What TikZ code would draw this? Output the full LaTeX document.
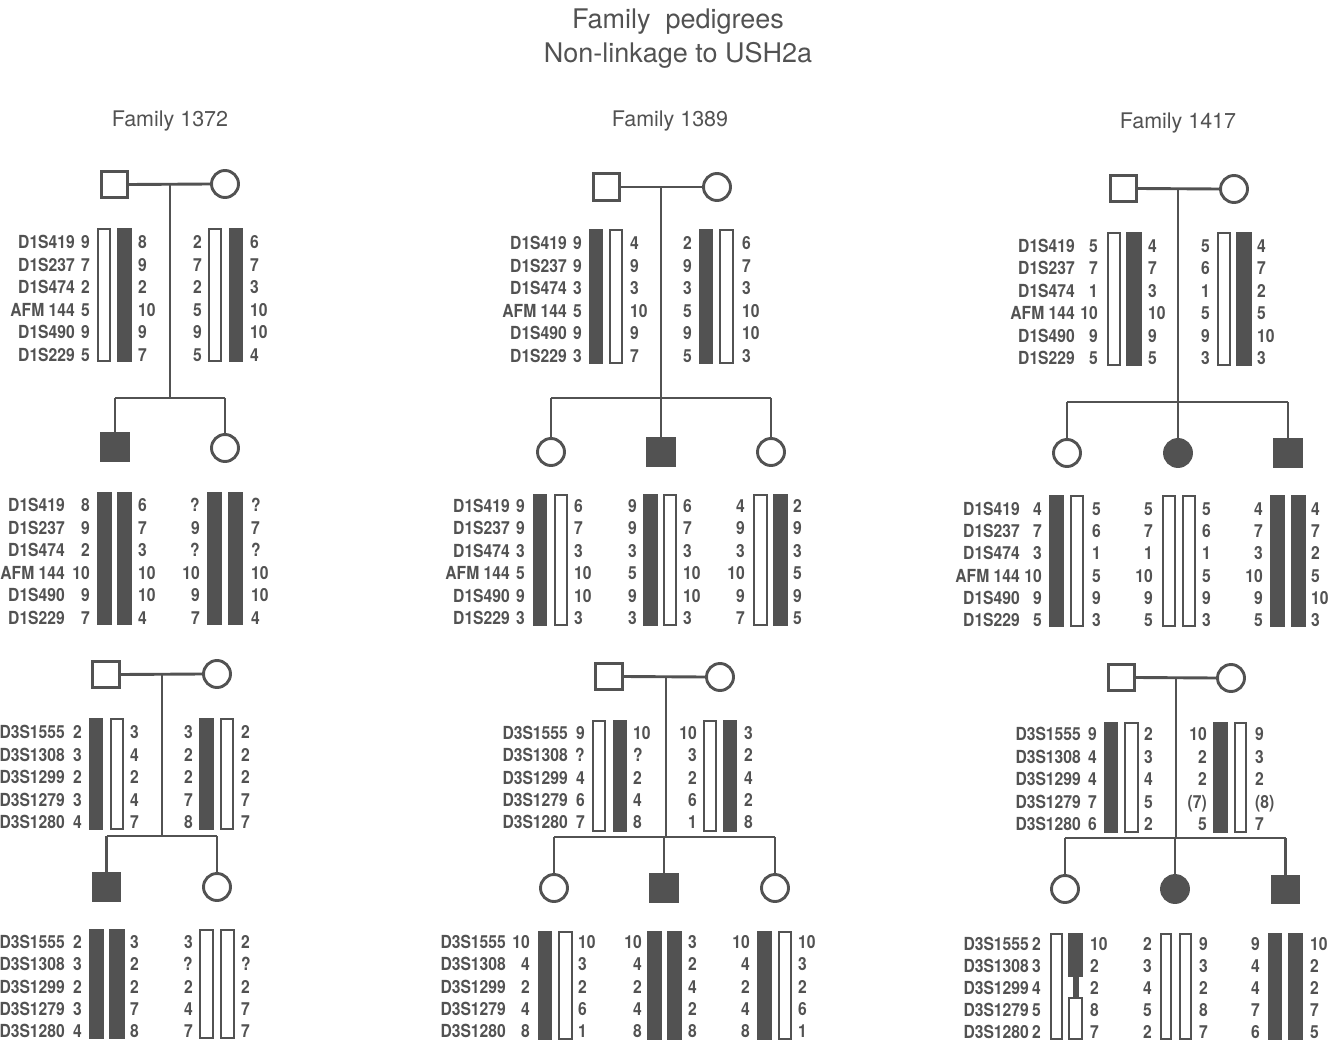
\documentclass[tikz,border=0pt]{standalone}
\usepackage{fontspec}
\setmainfont{TeX Gyre Heros}
\newfontfamily\condf{TeX Gyre Heros}[FakeStretch=0.87]
\definecolor{ink}{RGB}{82,82,82}
\tikzset{
  lw/.style={line width=2.9pt, draw=ink},
  male/.style={rectangle, draw=ink, line width=2.9pt, minimum size=26.5pt, inner sep=0pt},
  female/.style={circle, draw=ink, line width=2.9pt, minimum size=27pt, inner sep=0pt},
  aff/.style={fill=ink},
  wbar/.style={draw=ink, line width=1.8pt, fill=white},
  bbar/.style={draw=ink, line width=1.8pt, fill=ink},
  txt/.style={font=\condf\bfseries\fontsize{18}{20}\selectfont, text=ink, inner sep=0pt},
  ttl/.style={font=\fontsize{27}{30}\selectfont, text=ink, inner sep=0pt},
  fam/.style={font=\fontsize{21.5}{24}\selectfont, text=ink, inner sep=0pt}
}
\newcommand{\colL}[5]{\foreach \v [count=\i] in {#5}{\node[txt, anchor=base east] (#1-\i) at (#2, {#3+(\i-1)*#4+6.5}) {\v};}}
\newcommand{\colR}[5]{\foreach \v [count=\i] in {#5}{\node[txt, anchor=base west] (#1-\i) at (#2, {#3+(\i-1)*#4+6.5}) {\v};}}
\newcommand{\hapW}[4]{\draw[wbar] (#1+0.9,#2+0.9) rectangle (#3-0.9,#4-0.9);}
\newcommand{\hapB}[4]{\draw[bbar] (#1+0.9,#2+0.9) rectangle (#3-0.9,#4-0.9);}
\begin{document}
\begin{tikzpicture}[x=1pt,y=-1pt]
\useasboundingbox (0,0) rectangle (1344,1043);
% titles
\node[ttl] (t1) at (678,22) {Family\ \ pedigrees};
\node[ttl] (t2) at (678,55) {Non-linkage to USH2a};
\node[fam] (f72) at (170,121) {Family 1372};
\node[fam] (f89) at (670,121) {Family 1389};
\node[fam] (f17) at (1178,123) {Family 1417};

%%%%%%%%%%%%%%%% Family 1372, chromosome 1
\node[male] (A-f) at (114.5,184.5) {};
\node[female] (A-m) at (225,184) {};
\coordinate (A-s) at (170,398);
\node[male, aff] (A-c1) at (115,447) {};
\node[female] (A-c2) at (225,448) {};
\draw[lw] (A-f.east) -- (A-m.west);
\draw[lw] (A-s |- A-m.west) -- (A-s);
\draw[lw] (A-c1.north |- A-s) -- (A-c2.north |- A-s);
\draw[lw] (A-c1.north |- A-s) -- (A-c1.north);
\draw[lw] (A-c2.north |- A-s) -- (A-c2.north);
\hapW{97}{228}{111}{362} \hapB{117}{228}{132}{362}
\hapW{208}{228}{222}{362} \hapB{229}{228}{243}{362}
\colL{A-n}{75}{242}{22.6}{D1S419,D1S237,D1S474,AFM 144,D1S490,D1S229}
\colL{A-a}{90}{242}{22.6}{9,7,2,5,9,5}
\colR{A-b}{138}{242}{22.6}{8,9,2,10,9,7}
\colL{A-c}{202}{242}{22.6}{2,7,2,5,9,5}
\colR{A-d}{250}{242}{22.6}{6,7,3,10,10,4}
% children
\hapB{97}{492}{112}{625} \hapB{117}{492}{132}{625}
\hapB{207}{492}{222}{625} \hapB{228}{492}{243}{625}
\colL{A-cn}{65}{505}{22.6}{D1S419,D1S237,D1S474,AFM 144,D1S490,D1S229}
\colL{A-ca}{90}{505}{22.6}{8,9,2,10,9,7}
\colR{A-cb}{138}{505}{22.6}{6,7,3,10,10,4}
\colL{A-cc}{200}{505}{22.6}{?,9,?,10,9,7}
\colR{A-cd}{251}{505}{22.6}{?,7,?,10,10,4}

%%%%%%%%%%%%%%%% Family 1372, chromosome 3
\node[male] (B-f) at (106,674.5) {};
\node[female] (B-m) at (217,674) {};
\coordinate (B-s) at (162,836);
\node[male, aff] (B-c1) at (106.5,887) {};
\node[female] (B-c2) at (217,887) {};
\draw[lw] (B-f.east) -- (B-m.west);
\draw[lw] (B-s |- B-m.west) -- (B-s);
\draw[lw] (B-c1.north |- B-s) -- (B-c2.north |- B-s);
\draw[lw] (B-c1.north |- B-s) -- (B-c1.north);
\draw[lw] (B-c2.north |- B-s) -- (B-c2.north);
\hapB{89}{718}{103}{830} \hapW{110}{718}{124}{830}
\hapB{199}{718}{214}{830} \hapW{220}{718}{234}{830}
\colL{B-n}{65}{732}{22.5}{D3S1555,D3S1308,D3S1299,D3S1279,D3S1280}
\colL{B-a}{82}{732}{22.5}{2,3,2,3,4}
\colR{B-b}{130}{732}{22.5}{3,4,2,4,7}
\colL{B-c}{193}{732}{22.5}{3,2,2,7,8}
\colR{B-d}{241}{732}{22.5}{2,2,2,7,7}
% children
\hapB{89}{929}{104}{1039} \hapB{109}{929}{125}{1039}
\hapW{199}{929}{214}{1039} \hapW{220}{929}{235}{1039}
\colL{B-cn}{65}{942}{22.25}{D3S1555,D3S1308,D3S1299,D3S1279,D3S1280}
\colL{B-ca}{82}{942}{22.25}{2,3,2,3,4}
\colR{B-cb}{130}{942}{22.25}{3,2,2,7,8}
\colL{B-cc}{193}{942}{22.25}{3,?,2,4,7}
\colR{B-cd}{241}{942}{22.25}{2,?,2,7,7}

%%%%%%%%%%%%%%%% Family 1389, chromosome 1
\node[male] (C-f) at (606.5,187) {};
\node[female] (C-m) at (717,187) {};
\coordinate (C-s) at (661,398);
\node[female] (C-c1) at (551,452) {};
\node[male, aff] (C-c2) at (661,452) {};
\node[female] (C-c3) at (771,452) {};
\draw[lw] (C-f.east) -- (C-m.west);
\draw[lw] (C-s |- C-m.west) -- (C-c2.north);
\draw[lw] (C-c1.north |- C-s) -- (C-c3.north |- C-s);
\draw[lw] (C-c1.north |- C-s) -- (C-c1.north);
\draw[lw] (C-c3.north |- C-s) -- (C-c3.north);
\hapB{589}{229}{603}{364} \hapW{609}{229}{623}{364}
\hapB{699}{229}{713}{364} \hapW{719}{229}{734}{364}
\colL{C-n}{567}{243}{22.6}{D1S419,D1S237,D1S474,AFM 144,D1S490,D1S229}
\colL{C-a}{582}{243}{22.6}{9,9,3,5,9,3}
\colR{C-b}{630}{243}{22.6}{4,9,3,10,9,7}
\colL{C-c}{692}{243}{22.6}{2,9,3,5,9,5}
\colR{C-d}{742}{243}{22.6}{6,7,3,10,10,3}
% children
\hapB{533}{494}{547}{626} \hapW{554}{494}{568}{626}
\hapB{643}{494}{658}{626} \hapW{663}{494}{677}{626}
\hapW{753}{494}{768}{626} \hapB{773}{494}{788}{626}
\colL{C-cn}{510}{506}{22.4}{D1S419,D1S237,D1S474,AFM 144,D1S490,D1S229}
\colL{C-ca}{525}{506}{22.4}{9,9,3,5,9,3}
\colR{C-cb}{574}{506}{22.4}{6,7,3,10,10,3}
\colL{C-cc}{637}{506}{22.4}{9,9,3,5,9,3}
\colR{C-cd}{683}{506}{22.4}{6,7,3,10,10,3}
\colL{C-ce}{745}{506}{22.4}{4,9,3,10,9,7}
\colR{C-cf}{793}{506}{22.4}{2,9,3,5,9,5}

%%%%%%%%%%%%%%%% Family 1389, chromosome 3
\node[male] (D-f) at (609,676.5) {};
\node[female] (D-m) at (720,677) {};
\coordinate (D-s) at (666,837);
\node[female] (D-c1) at (554,888) {};
\node[male, aff] (D-c2) at (664,888) {};
\node[female] (D-c3) at (775,888) {};
\draw[lw] (D-f.east) -- (D-m.west);
\draw[lw] (D-s |- D-m.west) -- (D-s);
\draw[lw] (D-c1.north |- D-s) -- (D-c3.north |- D-s);
\draw[lw] (D-c1.north |- D-s) -- (D-c1.north);
\draw[lw] (D-c2.north |- D-s) -- (D-c2.north);
\draw[lw] (D-c3.north |- D-s) -- (D-c3.north);
\hapW{592}{720}{606}{832} \hapB{613}{720}{627}{832}
\hapW{703}{720}{717}{832} \hapB{723}{720}{737}{832}
\colL{D-n}{568}{733}{22.25}{D3S1555,D3S1308,D3S1299,D3S1279,D3S1280}
\colL{D-a}{585}{733}{22.25}{9,?,4,6,7}
\colR{D-b}{633}{733}{22.25}{10,?,2,4,8}
\colL{D-c}{697}{733}{22.25}{10,3,2,6,1}
\colR{D-d}{744}{733}{22.25}{3,2,4,2,8}
% children
\hapB{538}{931}{552}{1040} \hapW{558}{931}{573}{1040}
\hapB{647}{931}{662}{1040} \hapB{667}{931}{682}{1040}
\hapB{757}{931}{772}{1040} \hapW{778}{931}{792}{1040}
\colL{D-cn}{506}{942}{22.25}{D3S1555,D3S1308,D3S1299,D3S1279,D3S1280}
\colL{D-ca}{530}{942}{22.25}{10,4,2,4,8}
\colR{D-cb}{578}{942}{22.25}{10,3,2,6,1}
\colL{D-cc}{642}{942}{22.25}{10,4,2,4,8}
\colR{D-cd}{688}{942}{22.25}{3,2,4,2,8}
\colL{D-ce}{750}{942}{22.25}{10,4,2,4,8}
\colR{D-cf}{798}{942}{22.25}{10,3,2,6,1}

%%%%%%%%%%%%%%%% Family 1417, chromosome 1
\node[male] (E-f) at (1123.5,188.5) {};
\node[female] (E-m) at (1234,189) {};
\coordinate (E-s) at (1178,402);
\node[female] (E-c1) at (1067,453) {};
\node[female, aff] (E-c2) at (1178,453) {};
\node[male, aff] (E-c3) at (1288,453) {};
\draw[lw] (E-f.east) -- (E-m.west);
\draw[lw] (E-s |- E-m.west) -- (E-c2.north);
\draw[lw] (E-c1.north |- E-s) -- (E-c3.north |- E-s);
\draw[lw] (E-c1.north |- E-s) -- (E-c1.north);
\draw[lw] (E-c3.north |- E-s) -- (E-c3.north);
\hapW{1107}{232}{1121}{366} \hapB{1126}{232}{1142}{366}
\hapW{1217}{232}{1231}{366} \hapB{1236}{232}{1252}{366}
\colL{E-n}{1075}{246}{22.4}{D1S419,D1S237,D1S474,AFM 144,D1S490,D1S229}
\colL{E-a}{1098}{246}{22.4}{5,7,1,10,9,5}
\colR{E-b}{1148}{246}{22.4}{4,7,3,10,9,5}
\colL{E-c}{1210}{246}{22.4}{5,6,1,5,9,3}
\colR{E-d}{1257}{246}{22.4}{4,7,2,5,10,3}
% children
\hapB{1049}{495}{1064}{627} \hapW{1070}{495}{1084}{627}
\hapW{1162}{495}{1176}{627} \hapW{1182}{495}{1196}{627}
\hapB{1270}{495}{1285}{627} \hapB{1291}{495}{1306}{627}
\colL{E-cn}{1020}{509}{22.2}{D1S419,D1S237,D1S474,AFM 144,D1S490,D1S229}
\colL{E-ca}{1042}{509}{22.2}{4,7,3,10,9,5}
\colR{E-cb}{1092}{509}{22.2}{5,6,1,5,9,3}
\colL{E-cc}{1153}{509}{22.2}{5,7,1,10,9,5}
\colR{E-cd}{1202}{509}{22.2}{5,6,1,5,9,3}
\colL{E-ce}{1263}{509}{22.2}{4,7,3,10,9,5}
\colR{E-cf}{1311}{509}{22.2}{4,7,2,5,10,3}

%%%%%%%%%%%%%%%% Family 1417, chromosome 3
\node[male] (F-f) at (1121.5,677.5) {};
\node[female] (F-m) at (1231,678) {};
\coordinate (F-s) at (1176,838);
\node[female] (F-c1) at (1065,889) {};
\node[female, aff] (F-c2) at (1175,889) {};
\node[male, aff] (F-c3) at (1285.5,889.5) {};
\draw[lw] (F-f.east) -- (F-m.west);
\draw[lw] (F-s |- F-m.west) -- (F-s);
\draw[lw] (F-c1.north |- F-s) -- (F-c3.north |- F-s);
\draw[lw] (F-c1.north |- F-s) -- (F-c1.north);
\draw[lw] (F-c2.north |- F-s) -- (F-c2.north);
\draw[lw] (F-c3.north |- F-s) -- (F-c3.north);
\hapB{1104}{722}{1118}{833} \hapW{1124}{722}{1139}{833}
\hapB{1213}{722}{1228}{833} \hapW{1234}{722}{1247}{833}
\colL{F-n}{1081}{734}{22.5}{D3S1555,D3S1308,D3S1299,D3S1279,D3S1280}
\colL{F-a}{1097}{734}{22.5}{9,4,4,7,6}
\colR{F-b}{1144}{734}{22.5}{2,3,4,5,2}
\colL{F-c}{1207}{734}{22.5}{10,2,2,{(7)},5}
\colR{F-d}{1255}{734}{22.5}{9,3,2,{(8)},7}
% children
\hapW{1050}{933}{1063}{1040}
\hapB{1068}{933}{1083}{977}
\fill[ink] (1073,976) rectangle (1079,998);
\hapW{1068}{997}{1083}{1040}
\hapW{1160}{933}{1172}{1040} \hapW{1179}{933}{1192}{1040}
\hapB{1268}{933}{1282}{1040} \hapB{1288}{933}{1303}{1040}
\colL{F-cn}{1029}{944}{22}{D3S1555,D3S1308,D3S1299,D3S1279,D3S1280}
\colL{F-ca}{1041}{944}{22}{2,3,4,5,2}
\colR{F-cb}{1090}{944}{22}{10,2,2,8,7}
\colL{F-cc}{1152}{944}{22}{2,3,4,5,2}
\colR{F-cd}{1199}{944}{22}{9,3,2,8,7}
\colL{F-ce}{1260}{944}{22}{9,4,4,7,6}
\colR{F-cf}{1310}{944}{22}{10,2,2,7,5}
\end{tikzpicture}
\end{document}
